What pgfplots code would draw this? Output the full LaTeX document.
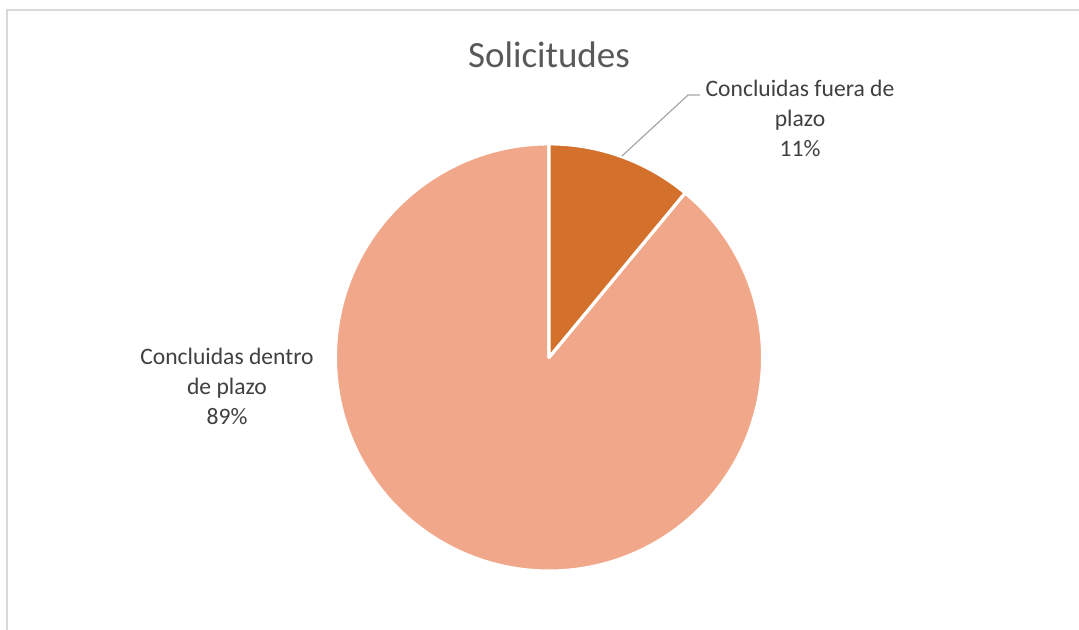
\documentclass[border=0pt]{standalone}
\usepackage{pgfplots}
\pgfplotsset{compat=1.18}
\usepackage{fontspec}
\setmainfont{Carlito}
\definecolor{darkor}{HTML}{D3702B}
\definecolor{lightor}{HTML}{F1A88A}
\definecolor{titletxt}{HTML}{595959}
\definecolor{labtxt}{HTML}{404040}
\definecolor{leader}{HTML}{A6A6A6}
\definecolor{framegray}{HTML}{D9D9D9}
\begin{document}
\begin{tikzpicture}
\begin{axis}[hide axis, scale only axis, width=539.5pt, height=314.5pt,
  xmin=-2.5896, xmax=2.5, ymin=-1.283, ymax=1.684, clip=false]
\def\vFuera{11}
\def\vDentro{89}
\pgfmathsetmacro\aEnd{90-3.6*\vFuera}
\pgfmathsetmacro\aEndB{90+3.6*\vDentro}
\coordinate (bl) at (rel axis cs:0,0);
\coordinate (tr) at (rel axis cs:1,1);
\draw[framegray, line width=0.9pt] (axis cs:-2.557,-3) -- (axis cs:-2.557,1.637) -- (axis cs:3,1.637);
\fill[lightor, draw=white, line width=1.6pt, line join=round] (axis cs:0,-0.002) -- ++(90:106.8pt) arc[start angle=90, end angle=\aEndB, radius=106.8pt] -- cycle;
\fill[darkor, draw=white, line width=1.6pt, line join=round] (axis cs:0,-0.002) -- ++(90:106.8pt) arc[start angle=90, end angle=\aEnd, radius=106.8pt] -- cycle;
\addplot[draw=leader, line width=0.6pt, no marks] coordinates {(0.344,0.948) (0.656,1.236) (0.712,1.236)};
\node[titletxt, font=\fontsize{18.5}{22}\selectfont] at (axis cs:0,1.425) {Solicitudes};
\node[labtxt, align=center, font=\fontsize{11.8}{15}\selectfont] at (axis cs:1.184,1.127) {Concluidas fuera de\\plazo\\\vFuera\%};
\node[labtxt, align=center, font=\fontsize{11.8}{15}\selectfont] at (axis cs:-1.519,-0.137) {Concluidas dentro\\de plazo\\\vDentro\%};
\end{axis}
\pgfresetboundingbox
\path[use as bounding box] (bl) rectangle (tr);
\end{tikzpicture}
\end{document}
